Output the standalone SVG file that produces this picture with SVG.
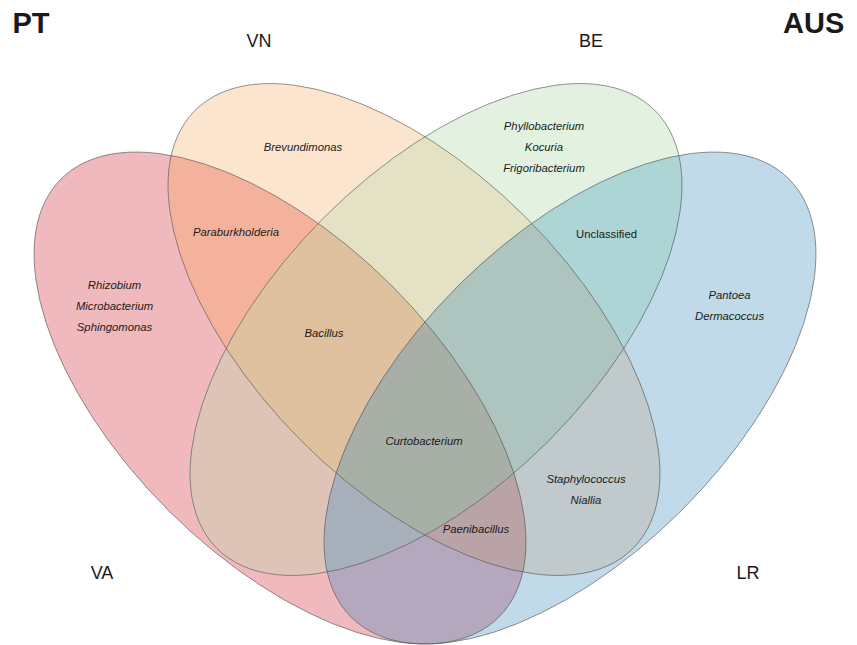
<svg xmlns="http://www.w3.org/2000/svg" xmlns:xlink="http://www.w3.org/1999/xlink" width="857" height="645" viewBox="0 0 857 645">
  <style>
    text { font-family: "Liberation Sans", Arial, sans-serif; fill: #1a1a1a; }
    .sp { font-size: 11.3px; font-style: italic; text-anchor: middle; }
    .un { font-size: 11.3px; text-anchor: middle; }
    .set { font-size: 18px; text-anchor: middle; }
    .country { font-size: 29px; font-weight: bold; }
    .outline { fill: none; stroke: #4a4a4a; stroke-width: 0.8; stroke-opacity: 0.7; }
  </style>
  <defs>
    <ellipse id="eR" cx="280" cy="398" rx="309.7" ry="158.4" transform="rotate(45 280 398)"/>
    <ellipse id="eO" cx="414" cy="329.5" rx="309.7" ry="158.4" transform="rotate(45 414 329.5)"/>
    <ellipse id="eG" cx="436" cy="329.5" rx="309.7" ry="158.4" transform="rotate(-45 436 329.5)"/>
    <ellipse id="eB" cx="570" cy="398" rx="309.7" ry="158.4" transform="rotate(-45 570 398)"/>
    <clipPath id="cR"><ellipse cx="280" cy="398" rx="309.7" ry="158.4" transform="rotate(45 280 398)"/></clipPath>
    <clipPath id="cO"><ellipse cx="414" cy="329.5" rx="309.7" ry="158.4" transform="rotate(45 414 329.5)"/></clipPath>
    <clipPath id="cG"><ellipse cx="436" cy="329.5" rx="309.7" ry="158.4" transform="rotate(-45 436 329.5)"/></clipPath>
    <clipPath id="cB"><ellipse cx="570" cy="398" rx="309.7" ry="158.4" transform="rotate(-45 570 398)"/></clipPath>
  </defs>
  <rect width="857" height="645" fill="#ffffff"/>

  <g id="regions">
    <!-- single sets -->
    <use xlink:href="#eR" fill="#F0B9BD"/>
    <use xlink:href="#eO" fill="#FCE5CF"/>
    <use xlink:href="#eG" fill="#E3F2E0"/>
    <use xlink:href="#eB" fill="#C0DAE9"/>
    <!-- pairs -->
    <g clip-path="url(#cR)"><use xlink:href="#eO" fill="#F4B29C"/></g>
    <g clip-path="url(#cR)"><use xlink:href="#eG" fill="#DDC4B6"/></g>
    <g clip-path="url(#cR)"><use xlink:href="#eB" fill="#B4A8BE"/></g>
    <g clip-path="url(#cO)"><use xlink:href="#eG" fill="#E4E2C4"/></g>
    <g clip-path="url(#cO)"><use xlink:href="#eB" fill="#C0C9CB"/></g>
    <g clip-path="url(#cG)"><use xlink:href="#eB" fill="#AED5D6"/></g>
    <!-- triples -->
    <g clip-path="url(#cR)"><g clip-path="url(#cO)"><use xlink:href="#eG" fill="#DFC09F"/></g></g>
    <g clip-path="url(#cR)"><g clip-path="url(#cO)"><use xlink:href="#eB" fill="#B9A3A7"/></g></g>
    <g clip-path="url(#cR)"><g clip-path="url(#cG)"><use xlink:href="#eB" fill="#A8B1BB"/></g></g>
    <g clip-path="url(#cO)"><g clip-path="url(#cG)"><use xlink:href="#eB" fill="#AEC5BF"/></g></g>
    <!-- all four -->
    <g clip-path="url(#cR)"><g clip-path="url(#cO)"><g clip-path="url(#cG)"><use xlink:href="#eB" fill="#A8AFA7"/></g></g></g>
  </g>

  <g id="set-VA">
    <use xlink:href="#eR" class="outline"/>
    <text class="set" x="102" y="579">VA</text>
  </g>
  <g id="set-VN">
    <use xlink:href="#eO" class="outline"/>
    <text class="set" x="259" y="47">VN</text>
  </g>
  <g id="set-BE">
    <use xlink:href="#eG" class="outline"/>
    <text class="set" x="591" y="47">BE</text>
  </g>
  <g id="set-LR">
    <use xlink:href="#eB" class="outline"/>
    <text class="set" x="748" y="579">LR</text>
  </g>

  <g id="country-labels">
    <text class="country" x="12.5" y="33">PT</text>
    <text class="country" x="783" y="33">AUS</text>
  </g>

  <g id="region-labels">
    <text class="sp" x="303" y="151">Brevundimonas</text>
    <text class="sp" x="236" y="236">Paraburkholderia</text>
    <text class="sp" x="114.5" y="289">Rhizobium</text>
    <text class="sp" x="114.5" y="310">Microbacterium</text>
    <text class="sp" x="114.5" y="331">Sphingomonas</text>
    <text class="sp" x="544" y="130">Phyllobacterium</text>
    <text class="sp" x="544" y="151">Kocuria</text>
    <text class="sp" x="544" y="172">Frigoribacterium</text>
    <text class="un" x="606.5" y="238">Unclassified</text>
    <text class="sp" x="729.5" y="299">Pantoea</text>
    <text class="sp" x="729.5" y="320">Dermacoccus</text>
    <text class="sp" x="324" y="337">Bacillus</text>
    <text class="sp" x="424" y="445">Curtobacterium</text>
    <text class="sp" x="586" y="483">Staphylococcus</text>
    <text class="sp" x="586" y="504">Niallia</text>
    <text class="sp" x="476" y="533">Paenibacillus</text>
  </g>
</svg>
